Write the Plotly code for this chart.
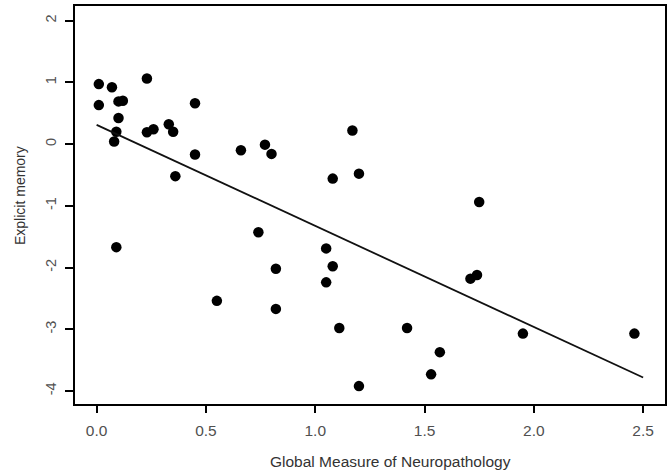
import plotly.graph_objects as go

# Data
neuropathology = [0.01, 0.01, 0.07, 0.10, 0.12, 0.10, 0.09, 0.08, 0.23, 0.23,
                  0.26, 0.33, 0.35, 0.45, 0.45, 0.36, 0.66, 0.77, 0.80, 1.17,
                  1.08, 1.20, 0.09, 0.74, 1.75, 1.05, 1.08, 0.82, 1.05, 0.55,
                  0.82, 1.11, 1.42, 1.57, 1.53, 1.20, 1.71, 1.74, 1.95, 2.46]
explicit_memory = [0.97, 0.63, 0.92, 0.69, 0.70, 0.42, 0.20, 0.04, 1.06, 0.19,
                   0.24, 0.32, 0.20, 0.66, -0.17, -0.52, -0.10, -0.01, -0.16, 0.22,
                   -0.56, -0.48, -1.67, -1.43, -0.94, -1.69, -1.98, -2.02, -2.24, -2.54,
                   -2.67, -2.98, -2.98, -3.37, -3.73, -3.92, -2.18, -2.12, -3.07, -3.07]

fit_x = [0.0, 2.5]
fit_y = [0.31, -3.78]

x_tickvals = [0, 0.5, 1.0, 1.5, 2.0, 2.5]
x_ticktext = ["0.0", "0.5", "1.0", "1.5", "2.0", "2.5"]
y_tickvals = [-4, -3, -2, -1, 0, 1, 2]
y_ticktext = ["-4", "-3", "-2", "-1", "0", "1", "2"]

x_title = "Global Measure of Neuropathology"
y_title = "Explicit memory"

FONT = "Liberation Sans, Arial, sans-serif"
TICKCOL = "#505050"

fig = go.Figure()
fig.add_trace(go.Scatter(x=neuropathology, y=explicit_memory, mode="markers",
                         marker=dict(color="black", size=10.5, line=dict(width=0)),
                         showlegend=False, hoverinfo="skip"))
fig.add_trace(go.Scatter(x=fit_x, y=fit_y, mode="lines",
                         line=dict(color="#111111", width=1.8),
                         showlegend=False, hoverinfo="skip"))

fig.update_layout(
    width=667, height=472,
    margin=dict(l=75, r=2, t=6, b=68, autoexpand=False),
    paper_bgcolor="white", plot_bgcolor="white",
    font=dict(family=FONT, color=TICKCOL),
    xaxis=dict(range=[-0.099, 2.6], tickvals=x_tickvals, ticktext=x_ticktext,
               showgrid=False, zeroline=False, showline=True, mirror=True,
               linecolor="black", linewidth=2, ticks="outside", ticklen=7,
               tickwidth=2, tickcolor="black", ticklabelstandoff=4,
               tickfont=dict(size=15.5, color=TICKCOL)),
    yaxis=dict(range=[-4.21, 2.235], tickvals=y_tickvals, ticktext=y_ticktext,
               showgrid=False, zeroline=False, showline=True, mirror=True,
               linecolor="black", linewidth=2, ticks="outside", ticklen=8,
               tickwidth=2, tickcolor="black", tickangle=-90, ticklabelstandoff=3,
               tickfont=dict(size=14.5, color=TICKCOL)),
    annotations=[
        dict(text=x_title, xref="paper", yref="paper", x=0.534, y=-0.1457,
             xanchor="center", yanchor="middle", showarrow=False,
             font=dict(size=15.5, color="#333333", family=FONT)),
        dict(text=y_title, xref="paper", yref="paper", x=-0.0932, y=0.5226,
             xanchor="center", yanchor="middle", textangle=-90, showarrow=False,
             font=dict(size=14, color="#333333", family=FONT)),
    ],
)

fig.write_html("out.html", config={"displayModeBar": False},
               post_script="document.body.style.margin='0';document.body.style.padding='0';")
